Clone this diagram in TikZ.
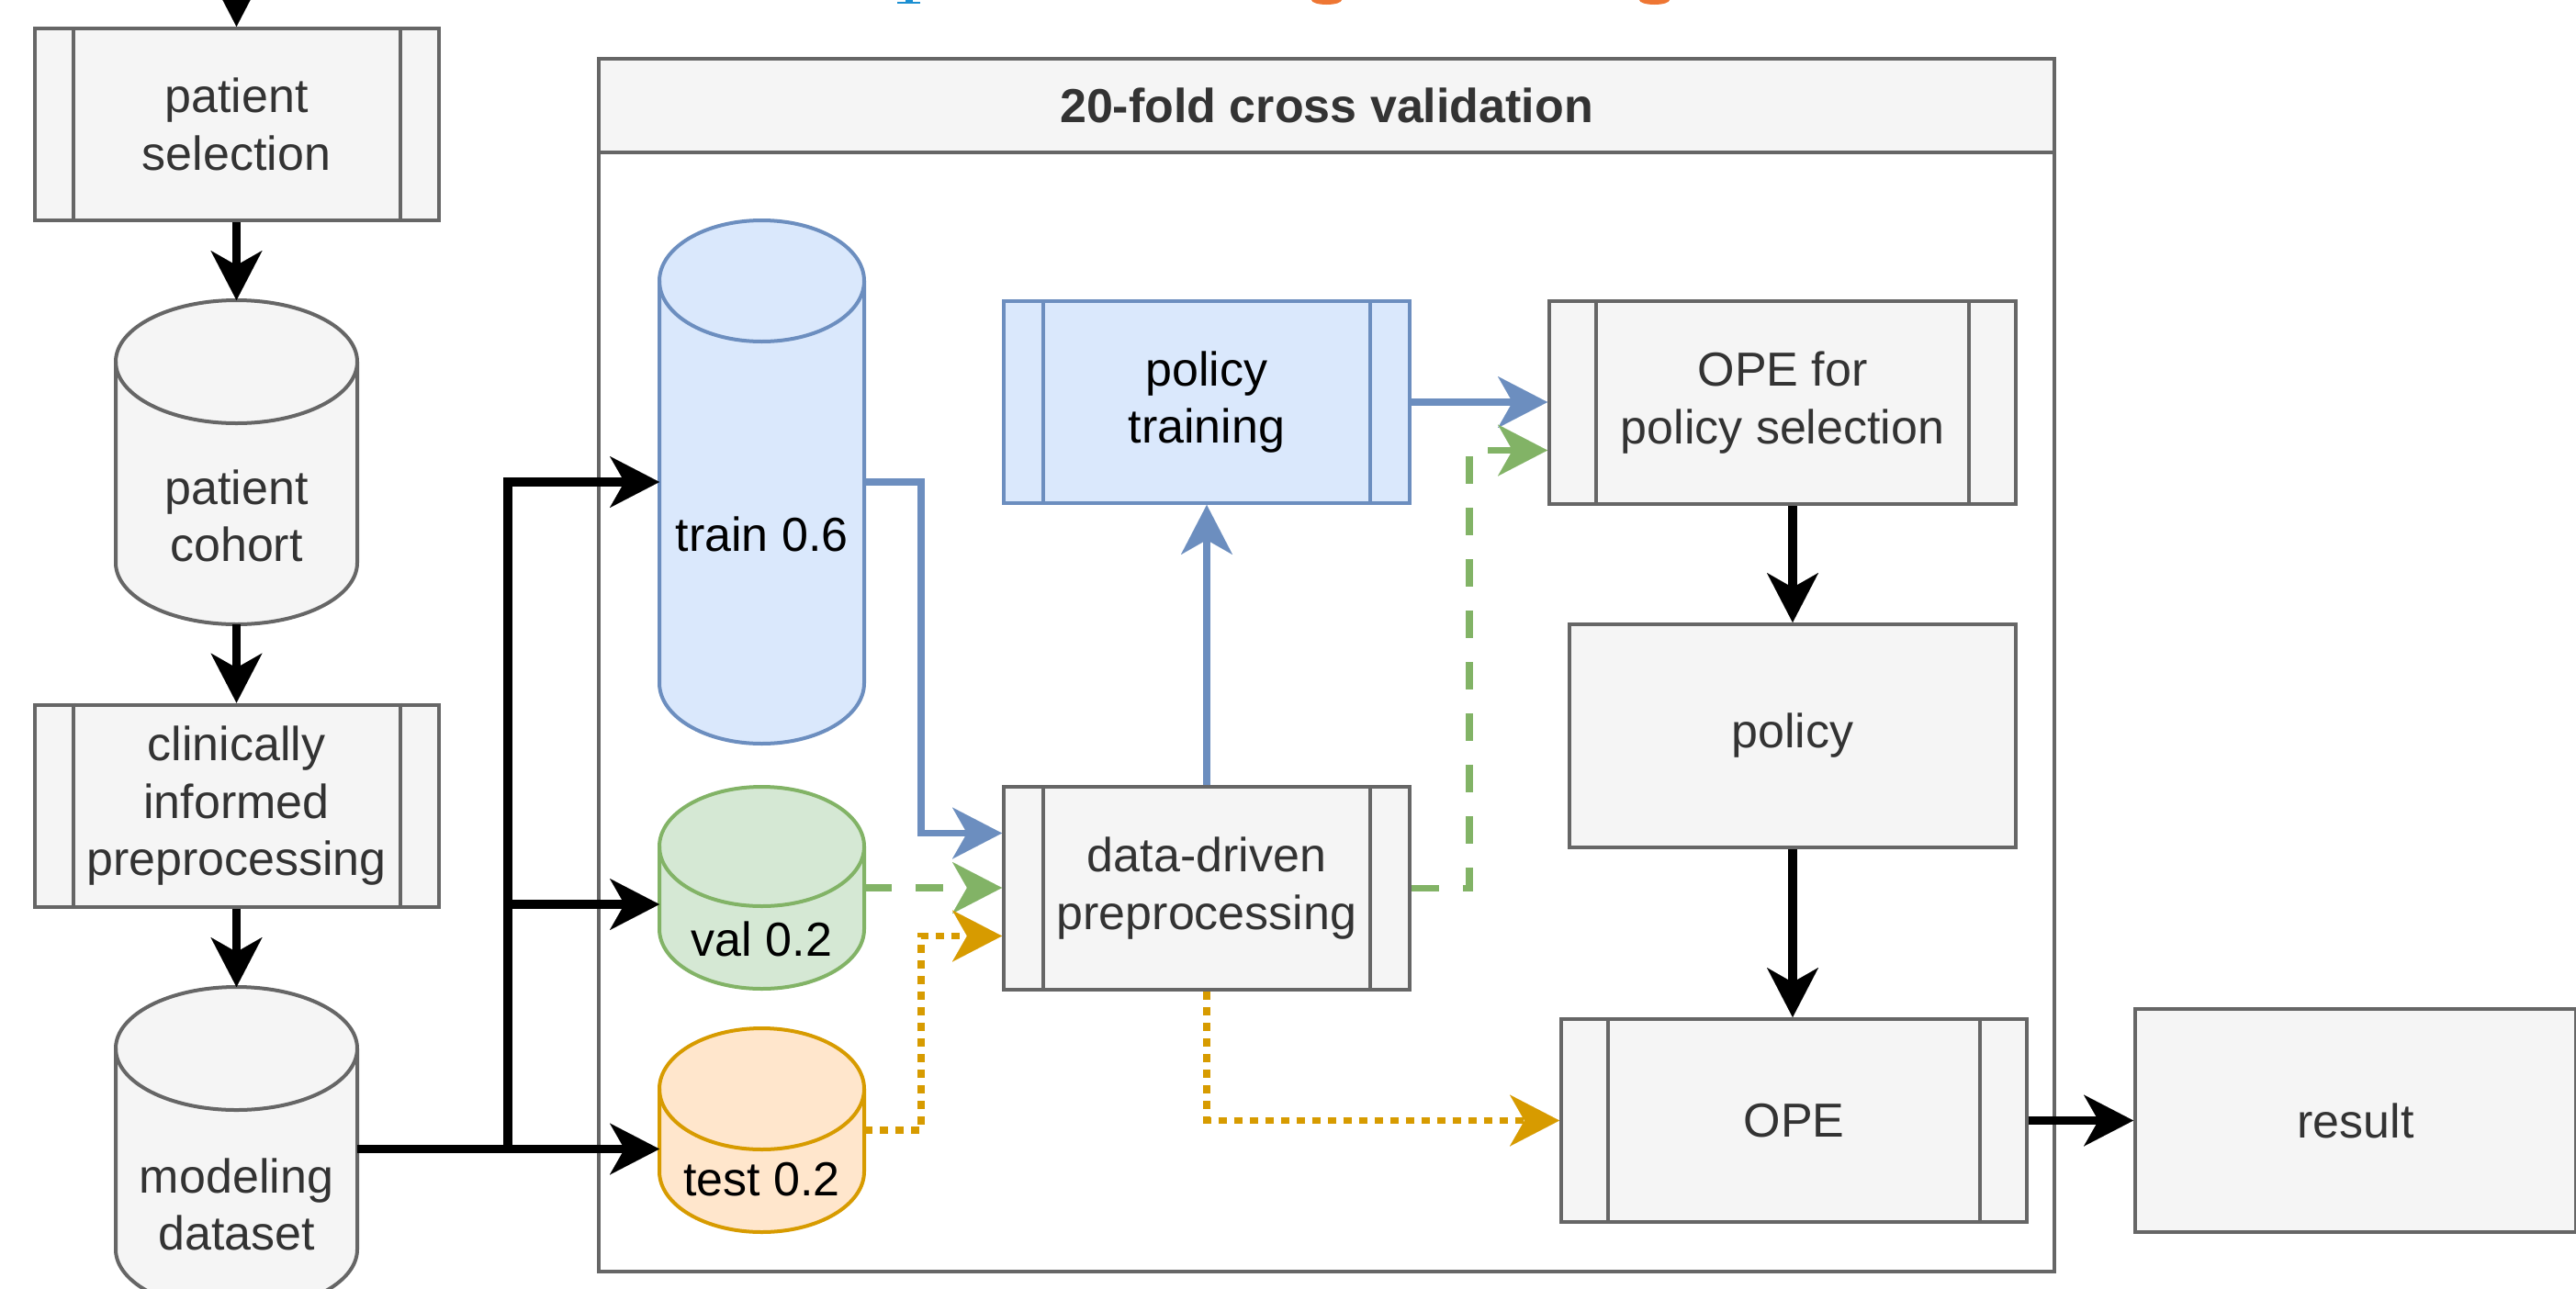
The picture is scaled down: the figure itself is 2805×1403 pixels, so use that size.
\documentclass[tikz,border=0pt]{standalone}
\usepackage{fontspec}
\setmainfont{Liberation Sans}
\usetikzlibrary{arrows.meta,calc}
\definecolor{gfill}{HTML}{F5F5F5}
\definecolor{gstroke}{HTML}{666666}
\definecolor{gtext}{HTML}{333333}
\definecolor{bfill}{HTML}{DAE8FC}
\definecolor{bstroke}{HTML}{6C8EBF}
\definecolor{grfill}{HTML}{D5E8D4}
\definecolor{grstroke}{HTML}{82B366}
\definecolor{ofill}{HTML}{FFE6CC}
\definecolor{ostroke}{HTML}{D79B00}
\definecolor{fragblue}{HTML}{1B8FD2}
\definecolor{fragorange}{HTML}{EE7633}
\tikzset{
  every node/.style={font=\fontsize{26pt}{31.2pt}\selectfont},
  box/.style={rectangle, draw=gstroke, fill=gfill, line width=2pt, text=gtext, align=center, inner sep=0pt},
  bluebox/.style={box, draw=bstroke, fill=bfill, text=black},
  cylanchor/.style={rectangle, inner sep=0pt, outer sep=0pt},
  lbl/.style={align=center, inner sep=0pt},
  tipped/.style={-{Stealth[length=27pt,width=28pt,inset=8pt,line width=0.01pt]}},
  blk/.style={tipped, draw=black, line width=4.75pt},
  bluec/.style={tipped, draw=bstroke, line width=3.75pt},
  greenc/.style={tipped, draw=grstroke, line width=3.75pt, dash pattern=on 15pt off 13pt},
  orangec/.style={tipped, draw=ostroke, line width=3.75pt, dash pattern=on 4.5pt off 4pt},
}
\newcommand{\sidelines}[3]{%
  \draw[#3, line width=2pt] ([xshift=#2]#1.north west) -- ([xshift=#2]#1.south west);
  \draw[#3, line width=2pt] ([xshift=-#2]#1.north east) -- ([xshift=-#2]#1.south east);}
\newcommand{\cylshape}[5]{%
  \path[draw=#2, fill=#3, line width=2pt] ([yshift=-#5]#1.north west) -- ([yshift=#5]#1.south west)
    arc[start angle=180, end angle=360, x radius=#4, y radius=#5]
    -- ([yshift=-#5]#1.north east)
    arc[start angle=0, end angle=180, x radius=#4, y radius=#5] -- cycle;
  \draw[#2, line width=2pt] ([yshift=-#5]#1.north west) arc[start angle=180, end angle=360, x radius=#4, y radius=#5];}
\begin{document}
\begin{tikzpicture}[x=0.5pt, y=-0.5pt]
\useasboundingbox (0,0) rectangle (2805,1403);
\clip (0,0) rectangle (2805,1403);
\fill[white] (0,0) rectangle (2805,1403);

% cut-off fragments of text above the picture
\fill[fragblue] (977,1.5) rectangle (1002,4);
\fill[fragblue] (986,0) rectangle (994,2);
\fill[fragorange] (1444.5,0) ellipse [x radius=8.25pt, y radius=2.5pt];
\fill[fragorange] (1801.5,0) ellipse [x radius=8.25pt, y radius=2.5pt];

% container
\node[rectangle, draw=gstroke, fill=white, line width=2pt, minimum width=792.5pt, minimum height=660.5pt, inner sep=0pt] (cv) at (1444.5,724.5) {};
\node[box, minimum width=792.5pt, minimum height=51pt, font=\bfseries\fontsize{26pt}{31.2pt}\selectfont] (cvhead) at (1444.5,115) {20-fold cross validation};

% left column
\node[box, minimum width=220pt, minimum height=104.5pt] (psel) at (257.5,135.5) {patient\\selection};
\sidelines{psel}{22pt}{gstroke}
\node[cylanchor, minimum width=131.5pt, minimum height=176.5pt] (cohort) at (257.5,503.5) {};
\cylshape{cohort}{gstroke}{gfill}{65.75pt}{33.5pt}
\node[lbl, text=gtext] (cohortlbl) at (257.5,562) {patient\\cohort};
\node[box, minimum width=220pt, minimum height=110.25pt] (clin) at (257.5,877.75) {clinically\\informed\\preprocessing};
\sidelines{clin}{22pt}{gstroke}
\node[cylanchor, minimum width=131.5pt, minimum height=176.5pt] (model) at (257.5,1251.5) {};
\cylshape{model}{gstroke}{gfill}{65.75pt}{33.5pt}
\node[lbl, text=gtext] (modellbl) at (257.5,1312) {modeling\\dataset};

% data splits
\node[cylanchor, minimum width=111.5pt, minimum height=285pt] (train) at (829.5,525) {};
\cylshape{train}{bstroke}{bfill}{55.75pt}{33pt}
\node[lbl, text=black] (trainlbl) at (829.5,582) {train 0.6};
\node[cylanchor, minimum width=111.5pt, minimum height=110pt] (val) at (829.5,967) {};
\cylshape{val}{grstroke}{grfill}{55.75pt}{32.5pt}
\node[lbl, text=black] (vallbl) at (829.5,1023) {val 0.2};
\node[cylanchor, minimum width=111.5pt, minimum height=111pt] (test) at (829.5,1231) {};
\cylshape{test}{ostroke}{ofill}{55.75pt}{33pt}
\node[lbl, text=black] (testlbl) at (829.5,1285) {test 0.2};

% processing
\node[bluebox, minimum width=221pt, minimum height=110pt] (pt) at (1314,438) {policy\\training};
\sidelines{pt}{22.5pt}{bstroke}
\node[box, minimum width=221pt, minimum height=110.5pt] (dd) at (1314,967.5) {data-driven\\preprocessing};
\sidelines{dd}{22.5pt}{gstroke}
\node[box, minimum width=254pt, minimum height=110.5pt] (opesel) at (1941,438.5) {OPE for\\policy selection};
\sidelines{opesel}{26.5pt}{gstroke}
\node[box, minimum width=243pt, minimum height=121.5pt] (policy) at (1952,801.5) {policy};
\node[box, minimum width=253.5pt, minimum height=110.5pt] (ope) at (1953.5,1220.5) {OPE};
\sidelines{ope}{26.5pt}{gstroke}
\node[box, minimum width=240pt, minimum height=121.5pt] (result) at (2565,1220.5) {result};

% black connectors
\coordinate (topin) at (257.5,-60);
\draw[blk] (topin) -- (psel.north);
\draw[blk] (psel.south) -- (cohort.north);
\draw[blk] (cohort.south) -- (clin.north);
\draw[blk] (clin.south) -- (model.north);
\coordinate (trunk) at (553,1251.5);
\draw[blk] (model.east) -- (model.east -| test.west);
\draw[blk] (trunk) |- (train.west);
\draw[blk] (trunk) |- ([yshift=-9pt]val.west);
\draw[blk] (policy.north |- opesel.south) -- (policy.north);
\draw[blk] (policy.south) -- (policy.south |- ope.north);
\draw[blk] (ope.east) -- (result.west);

% coloured connectors
\draw[bluec] (train.east) -- ++(31pt,0) |- ([yshift=30pt]dd.west);
\draw[greenc] (val.east) -- (val.east -| dd.west);
\draw[orangec] (test.east) -- ++(31pt,0) |- ([yshift=-26pt]dd.west);
\draw[bluec] (dd.north) -- (pt.south);
\draw[bluec] (pt.east) -- (pt.east -| opesel.west);
\draw[greenc] (dd.east) -- ++(31.5pt,0) |- ([yshift=-26pt]opesel.west);
\draw[orangec] (dd.south) |- (ope.west);
\end{tikzpicture}
\end{document}
